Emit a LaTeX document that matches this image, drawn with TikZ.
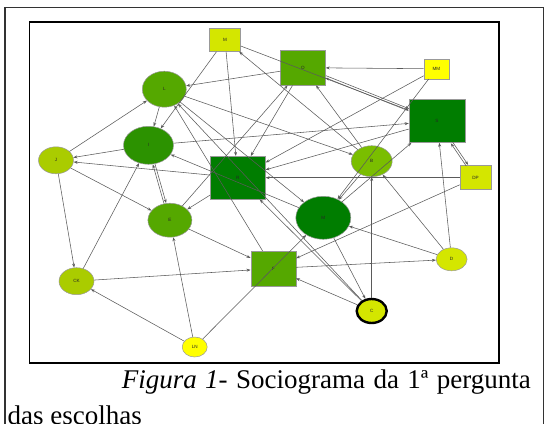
\documentclass[tikz,border=0pt]{standalone}
\usepackage{fontspec}
\setmainfont{Liberation Serif}
\newfontfamily\labelfont{Liberation Sans}
\usetikzlibrary{arrows.meta,shapes.geometric}

\definecolor{cLime}{RGB}{212,230,0}
\definecolor{cYellow}{RGB}{255,255,0}
\definecolor{cYG}{RGB}{170,204,0}
\definecolor{cLight}{RGB}{122,190,0}
\definecolor{cMid}{RGB}{85,168,0}
\definecolor{cDeep}{RGB}{44,146,0}
\definecolor{cDark}{RGB}{0,125,0}
\definecolor{cEdge}{RGB}{90,90,90}

\begin{document}
\begin{tikzpicture}[x=1pt,y=-1pt,
  lbl/.style={font=\labelfont\fontsize{4.6}{5}\selectfont, text=black!85},
  sq/.style={rectangle, draw=black!40, line width=0.5pt, inner sep=0pt, lbl},
  el/.style={ellipse, draw=black!40, line width=0.5pt, inner sep=0pt, lbl},
  edge/.style={draw=cEdge, line width=0.55pt, -{Stealth[length=4pt,width=3pt]}},
  captxt/.style={anchor=base west, inner sep=0pt, font=\fontsize{27}{32}\selectfont}]
\useasboundingbox (0,0) rectangle (548,423);

% page frame and figure frame
\draw[line width=1.2pt, black!80] (4.9,440) -- (4.9,7.3) -- (543.5,7.3) -- (543.5,440);
\draw[line width=1.8pt] (29.4,22) rectangle (499,362.7);

% actors
\node[sq, fill=cLime,   minimum width=31pt, minimum height=23pt] (Mt) at (225,40) {M};
\node[sq, fill=cMid,    minimum width=45pt, minimum height=35pt] (O)  at (303,67.7) {O};
\node[sq, fill=cYellow, minimum width=25pt, minimum height=20pt] (MM) at (436.4,68.8) {MM};
\node[el, fill=cMid,    minimum width=44pt, minimum height=36pt] (L)  at (164.3,89.2) {L};
\node[sq, fill=cDark,   minimum width=56pt, minimum height=43pt] (S)  at (437,121) {S};
\node[el, fill=cDeep,   minimum width=50pt, minimum height=38pt] (I)  at (148.5,145.3) {I};
\node[el, fill=cYG,     minimum width=35pt, minimum height=27pt] (J)  at (56,160.3) {J};
\node[sq, fill=cDark,   minimum width=55pt, minimum height=43pt] (R)  at (237.9,177.7) {R};
\node[el, fill=cLight,  minimum width=41pt, minimum height=31pt] (B)  at (371.7,161.2) {B};
\node[sq, fill=cLime,   minimum width=31pt, minimum height=24pt] (DP) at (475.5,177.7) {DP};
\node[el, fill=cMid,    minimum width=44pt, minimum height=34pt] (E)  at (169.9,220.2) {E};
\node[el, fill=cDark,   minimum width=55pt, minimum height=43pt] (Mb) at (323.3,217.8) {M};
\node[sq, fill=cMid,    minimum width=45pt, minimum height=35pt] (F)  at (273.3,268.5) {F};
\node[el, fill=cLime,   minimum width=31pt, minimum height=23pt] (D)  at (451.6,259.3) {D};
\node[el, fill=cYG,     minimum width=35pt, minimum height=27pt] (CK) at (76.5,281.2) {CK};
\node[el, fill=cLime, draw=black, line width=2.4pt, minimum width=30pt, minimum height=24pt] (C) at (371.7,311) {C};
\node[el, fill=cYellow, minimum width=25pt, minimum height=20pt] (LN) at (194.7,347) {LN};

% choices
\draw[edge] (Mt) -- (I);
\draw[edge] (Mt) -- (R);
\draw[edge] (Mt) -- (S);
\draw[edge] (B) -- (Mt);
\draw[edge] (O) -- (L);
\draw[edge] (MM) -- (O);
\draw[edge, transform canvas={shift={(0.4pt,1.0pt)}}] (O) -- (S);
\draw[edge, transform canvas={shift={(-0.4pt,-1.0pt)}}] (S) -- (O);
\draw[edge] (E) -- (O);
\draw[edge] (O) -- (R);
\draw[edge] (MM) -- (R);
\draw[edge] (MM) -- (Mb);
\draw[edge] (S) -- (R);
\draw[edge] (I) -- (S);
\draw[edge, transform canvas={shift={(0.9pt,0.6pt)}}] (S) -- (DP);
\draw[edge, transform canvas={shift={(-0.9pt,-0.6pt)}}] (DP) -- (S);
\draw[edge] (D) -- (S);
\draw[edge] (D) -- (B);
\draw[edge] (D) -- (Mb);
\draw[edge] (F) -- (D);
\draw[edge] (DP) -- (R);
\draw[edge] (DP) -- (F);
\draw[edge] (C) -- (B);
\draw[edge] (C) -- (F);
\draw[edge] (Mb) -- (C);
\draw[edge] (C) -- (R);
\draw[edge] (C) -- (L);
\draw[edge] (L) -- (B);
\draw[edge] (L) -- (I);
\draw[edge] (L) -- (Mb);
\draw[edge] (F) -- (L);
\draw[edge] (J) -- (L);
\draw[edge] (I) -- (J);
\draw[edge] (R) -- (J);
\draw[edge] (J) -- (E);
\draw[edge] (J) -- (CK);
\draw[edge] (CK) -- (I);
\draw[edge] (CK) -- (F);
\draw[edge] (LN) -- (CK);
\draw[edge] (LN) -- (E);
\draw[edge] (LN) -- (Mb);
\draw[edge] (E) -- (F);
\draw[edge, transform canvas={shift={(1.05pt,0.3pt)}}] (I) -- (E);
\draw[edge, transform canvas={shift={(-1.05pt,-0.3pt)}}] (E) -- (I);
\draw[edge] (R) -- (E);
\draw[edge] (B) -- (O);
\draw[edge] (Mb) -- (S);
\draw[edge] (Mb) -- (I);
\draw[edge] (B) -- (Mb);

% caption
\node[captxt] (cap1) at (121.6,388) {\hbox to 409pt{\textit{Figura}\hfill\textit{1}-\hfill Sociograma\hfill da\hfill 1ª\hfill pergunta}};
\node[captxt] (cap2) at (7.5,424) {das escolhas};
\end{tikzpicture}
\end{document}
